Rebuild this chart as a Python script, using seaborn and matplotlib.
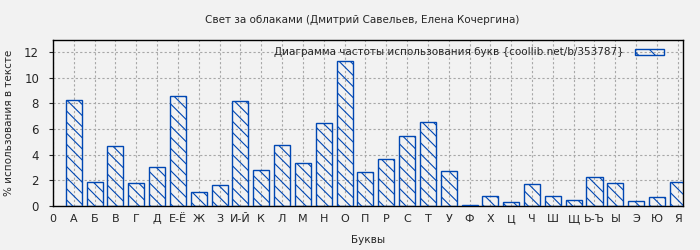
import matplotlib
matplotlib.use("Agg")
import matplotlib.pyplot as plt
import seaborn as sns
import pandas as pd
from matplotlib.patches import Patch

tick_labels = ["0", "А", "Б", "В", "Г", "Д", "Е-Ё", "Ж", "З", "И-Й", "К", "Л", "М", "Н",
               "О", "П", "Р", "С", "Т", "У", "Ф", "Х", "Ц", "Ч", "Ш", "Щ", "Ь-Ъ", "Ы",
               "Э", "Ю", "Я"]
letters = tick_labels[1:]
values = [8.25, 1.85, 4.65, 1.77, 3.02, 8.55, 1.07, 1.61, 8.16, 2.78, 4.73, 3.33, 6.45,
          11.35, 2.62, 3.64, 5.43, 6.52, 2.70, 0.08, 0.78, 0.29, 1.69, 0.78, 0.44, 2.26,
          1.77, 0.37, 0.70, 1.85]

title = "Свет за облаками (Дмитрий Савельев, Елена Кочергина)"
legend_label = "Диаграмма частоты использования букв {coollib.net/b/353787}"

sns.set_style("white")
plt.rcParams['font.family'] = ['DejaVu Sans']
plt.rcParams['hatch.linewidth'] = 0.8
plt.rcParams['hatch.color'] = '#0047b3'

df = pd.DataFrame({"pos": list(range(1, len(letters) + 1)), "val": values})

fig = plt.figure(figsize=(7, 2.5), dpi=100, facecolor='#f2f2f2')
ax = fig.add_axes([53/700, 44/250, 630/700, 166/250])
ax.set_facecolor('#f2f2f2')

blue = '#0047b3'
hatch = '\\\\\\'
sns.barplot(data=df, x="pos", y="val", native_scale=True, width=0.77,
            fill=False, ax=ax, errorbar=None, zorder=3)
for p in ax.patches:
    p.set_edgecolor(blue)
    p.set_linewidth(1.0)
    p.set_hatch(hatch)
    p.set_facecolor('none')

ax.set_xlim(0, 30.25)
ax.set_ylim(0, 12.95)
ax.set_xticks(range(len(tick_labels)))
ax.set_xticklabels(tick_labels, fontsize=8)
ax.set_yticks([0, 2, 4, 6, 8, 10, 12])
ax.tick_params(axis='y', labelsize=8.5, length=3, direction='out', left=True, pad=7)
ax.tick_params(axis='x', length=0, pad=6)
ax.grid(True, color='#a8a8a8', linestyle=(0, (2, 2)), linewidth=0.8, zorder=0)
for s in ax.spines.values():
    s.set_color('black')
    s.set_linewidth(1.0)

ax.set_xlabel("Буквы", fontsize=7.5, labelpad=8)
ax.set_ylabel("% использования в тексте", fontsize=7.5, labelpad=7)
fig.text(362/700, 0.922, title, ha='center', va='center', fontsize=7.5)

handle = Patch(facecolor='none', edgecolor=blue, hatch='\\\\', linewidth=1.0)
ax.legend([handle], [legend_label], loc='upper right', frameon=False, markerfirst=False,
          fontsize=7.5, handlelength=2.8, handleheight=0.5, borderaxespad=0.3,
          handletextpad=1.0, bbox_to_anchor=(0.981, 1.0))

fig.savefig("out.png", dpi=100, facecolor=fig.get_facecolor())
